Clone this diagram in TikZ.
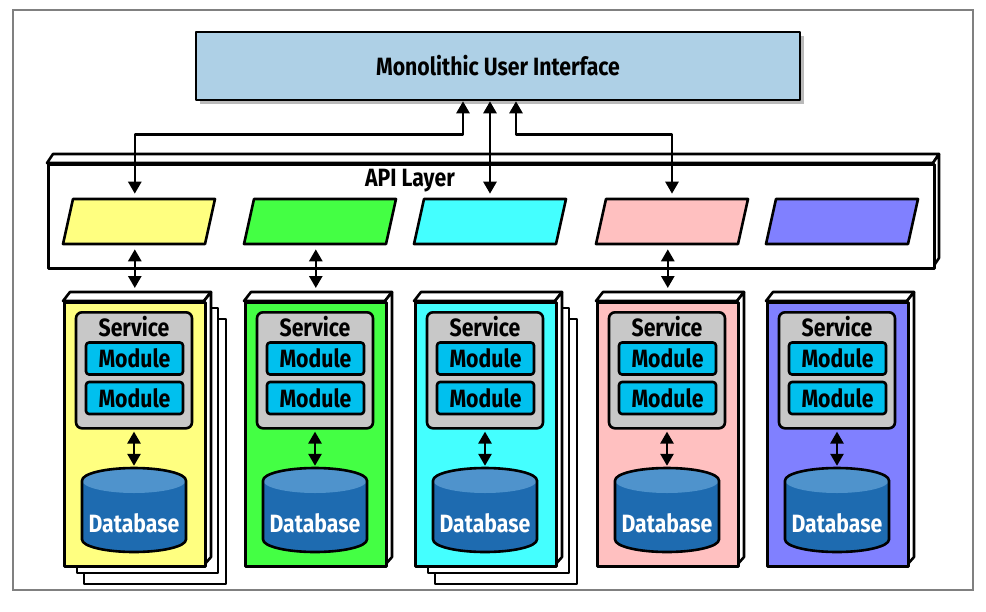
\documentclass[tikz,border=0pt]{standalone}
\usepackage{fontspec}
\setmainfont{Fira Sans}[FakeStretch=0.85]
\usetikzlibrary{arrows.meta,shadows}
\definecolor{uiblue}{HTML}{AED0E6}
\definecolor{cyel}{HTML}{FFFF80}
\definecolor{cgrn}{HTML}{44FF44}
\definecolor{ccyn}{HTML}{44FFFF}
\definecolor{cpnk}{HTML}{FFC0C0}
\definecolor{cpur}{HTML}{8080FF}
\definecolor{svcgray}{HTML}{C8C8C8}
\definecolor{modcyan}{HTML}{00C0EE}
\definecolor{dbbody}{HTML}{1E6BB0}
\definecolor{dbtop}{HTML}{4F93CC}
\newcommand{\lblfont}{\fontsize{25}{27}\selectfont\bfseries}
\tikzset{
  thk/.style={line width=2.6pt, line join=round},
  lbl/.style={font=\lblfont, inner sep=0pt},
  arr/.style={thk, {Triangle[width=13pt,length=12pt]}-{Triangle[width=13pt,length=12pt]}},
  para/.style={draw, thk, xslant=0.222, minimum width=142, minimum height=45, inner sep=0pt},
  svc/.style={draw, thk, fill=svcgray, rounded corners=6pt, inner sep=0pt},
  mod/.style={draw, thk, fill=modcyan, rounded corners=3pt, inner sep=0pt,
              minimum width=97, minimum height=32, font=\lblfont},
}
\newcommand{\svccol}[3]{%
  % #1 id, #2 left x, #3 colour
  \draw[thk, fill=white] (#2,301) -- (#2+7,292) -- (#2+148,292) -- (#2+141,301) -- cycle;
  \draw[thk, fill=white] (#2+141,301) -- (#2+148,292) -- (#2+148,557) -- (#2+141,565) -- cycle;
  \node[draw, thk, fill=#3, minimum width=141, minimum height=264, anchor=north west, inner sep=0pt] (c#1) at (#2,301) {};
  \node[svc, minimum width=116, minimum height=116, anchor=north] (s#1) at (#2+71,311) {};
  \node[lbl] (sl#1) at (#2+71,327) {Service};
  \node[mod] (ma#1) at (#2+71.5,358.5) {Module};
  \node[mod] (mb#1) at (#2+71.5,398) {Module};
  \fill[dbbody] (#2+19,480.5) -- (#2+19,539.5)
     arc[start angle=180, end angle=360, x radius=52pt, y radius=12.5pt]
     -- (#2+123,480.5)
     arc[start angle=0, end angle=180, x radius=52pt, y radius=12.5pt] -- cycle;
  \fill[dbtop] (#2+71,480.5) ellipse[x radius=52pt, y radius=12.5pt];
  \draw[thk] (#2+19,480.5) -- (#2+19,539.5)
     arc[start angle=180, end angle=360, x radius=52pt, y radius=12.5pt]
     -- (#2+123,480.5)
     arc[start angle=0, end angle=180, x radius=52pt, y radius=12.5pt] -- cycle;
  \node[minimum width=104, minimum height=84, inner sep=0pt] (d#1) at (#2+71,510) {};
  \node[lbl, text=white] (dl#1) at (#2+71,523) {Database};
  \draw[arr] ([yshift=-2pt]s#1.south) -- ([yshift=2pt]d#1.north);
}
\begin{document}
\begin{tikzpicture}[x=1pt,y=-1pt]
\useasboundingbox (0,0) rectangle (986,611);
\draw[line width=1.5pt, black!50] (13,10) rectangle (973,590);

% UI
\node[draw, thk, fill=uiblue, minimum width=604, minimum height=68, inner sep=0pt,
      drop shadow={shadow xshift=4pt, shadow yshift=-4pt, fill=black!45, opacity=0.6},
      font=\lblfont] (ui) at (498,66) {Monolithic User Interface};

% API layer
\draw[thk, fill=white] (47,163) -- (53,154) -- (939,154) -- (933,163) -- cycle;
\draw[thk, fill=white] (933,163) -- (939,154) -- (939,258) -- (933,267) -- cycle;
\node[draw, thk, fill=white, minimum width=886, minimum height=104, anchor=north west, inner sep=0pt] (api) at (47,163) {};
\node[lbl] (apil) at (410,181) {API Layer};

\node[para, fill=cyel] (p1) at (139,221.5) {};
\node[para, fill=cgrn] (p2) at (320,221.5) {};
\node[para, fill=ccyn] (p3) at (490,221.5) {};
\node[para, fill=cpnk] (p4) at (672,221.5) {};
\node[para, fill=cpur] (p5) at (842,221.5) {};

% stacked pages
\draw[thk, fill=white] (84,319) rectangle (226,584);
\draw[thk, fill=white] (77,308) rectangle (218,573);
\draw[thk, fill=white] (435,319) rectangle (577,584);
\draw[thk, fill=white] (428,308) rectangle (569,573);

\svccol{1}{63}{cyel}
\svccol{2}{244}{cgrn}
\svccol{3}{414}{ccyn}
\svccol{4}{596}{cpnk}
\svccol{5}{766}{cpur}

% connectors UI -> API
\draw[arr] ([xshift=-35pt]ui.south) -- ++(0,33) -| ([yshift=4pt]p1.north -| c1.north);
\draw[arr] ([xshift=-8pt]ui.south) -- ([yshift=4pt]p3.north -| p3.center);
\draw[arr] ([xshift=18pt]ui.south) -- ++(0,33) -| ([yshift=4pt]p4.north -| p4.center);

% connectors API -> services
\draw[arr] ([yshift=-4pt]p1.south -| c1.north) -- ([yshift=13pt]c1.north);
\draw[arr] ([yshift=-4pt]p2.south -| c2.north) -- ([yshift=13pt]c2.north);
\draw[arr] ([yshift=-4pt]p4.south -| c4.north) -- ([yshift=13pt]c4.north);
\end{tikzpicture}
\end{document}
